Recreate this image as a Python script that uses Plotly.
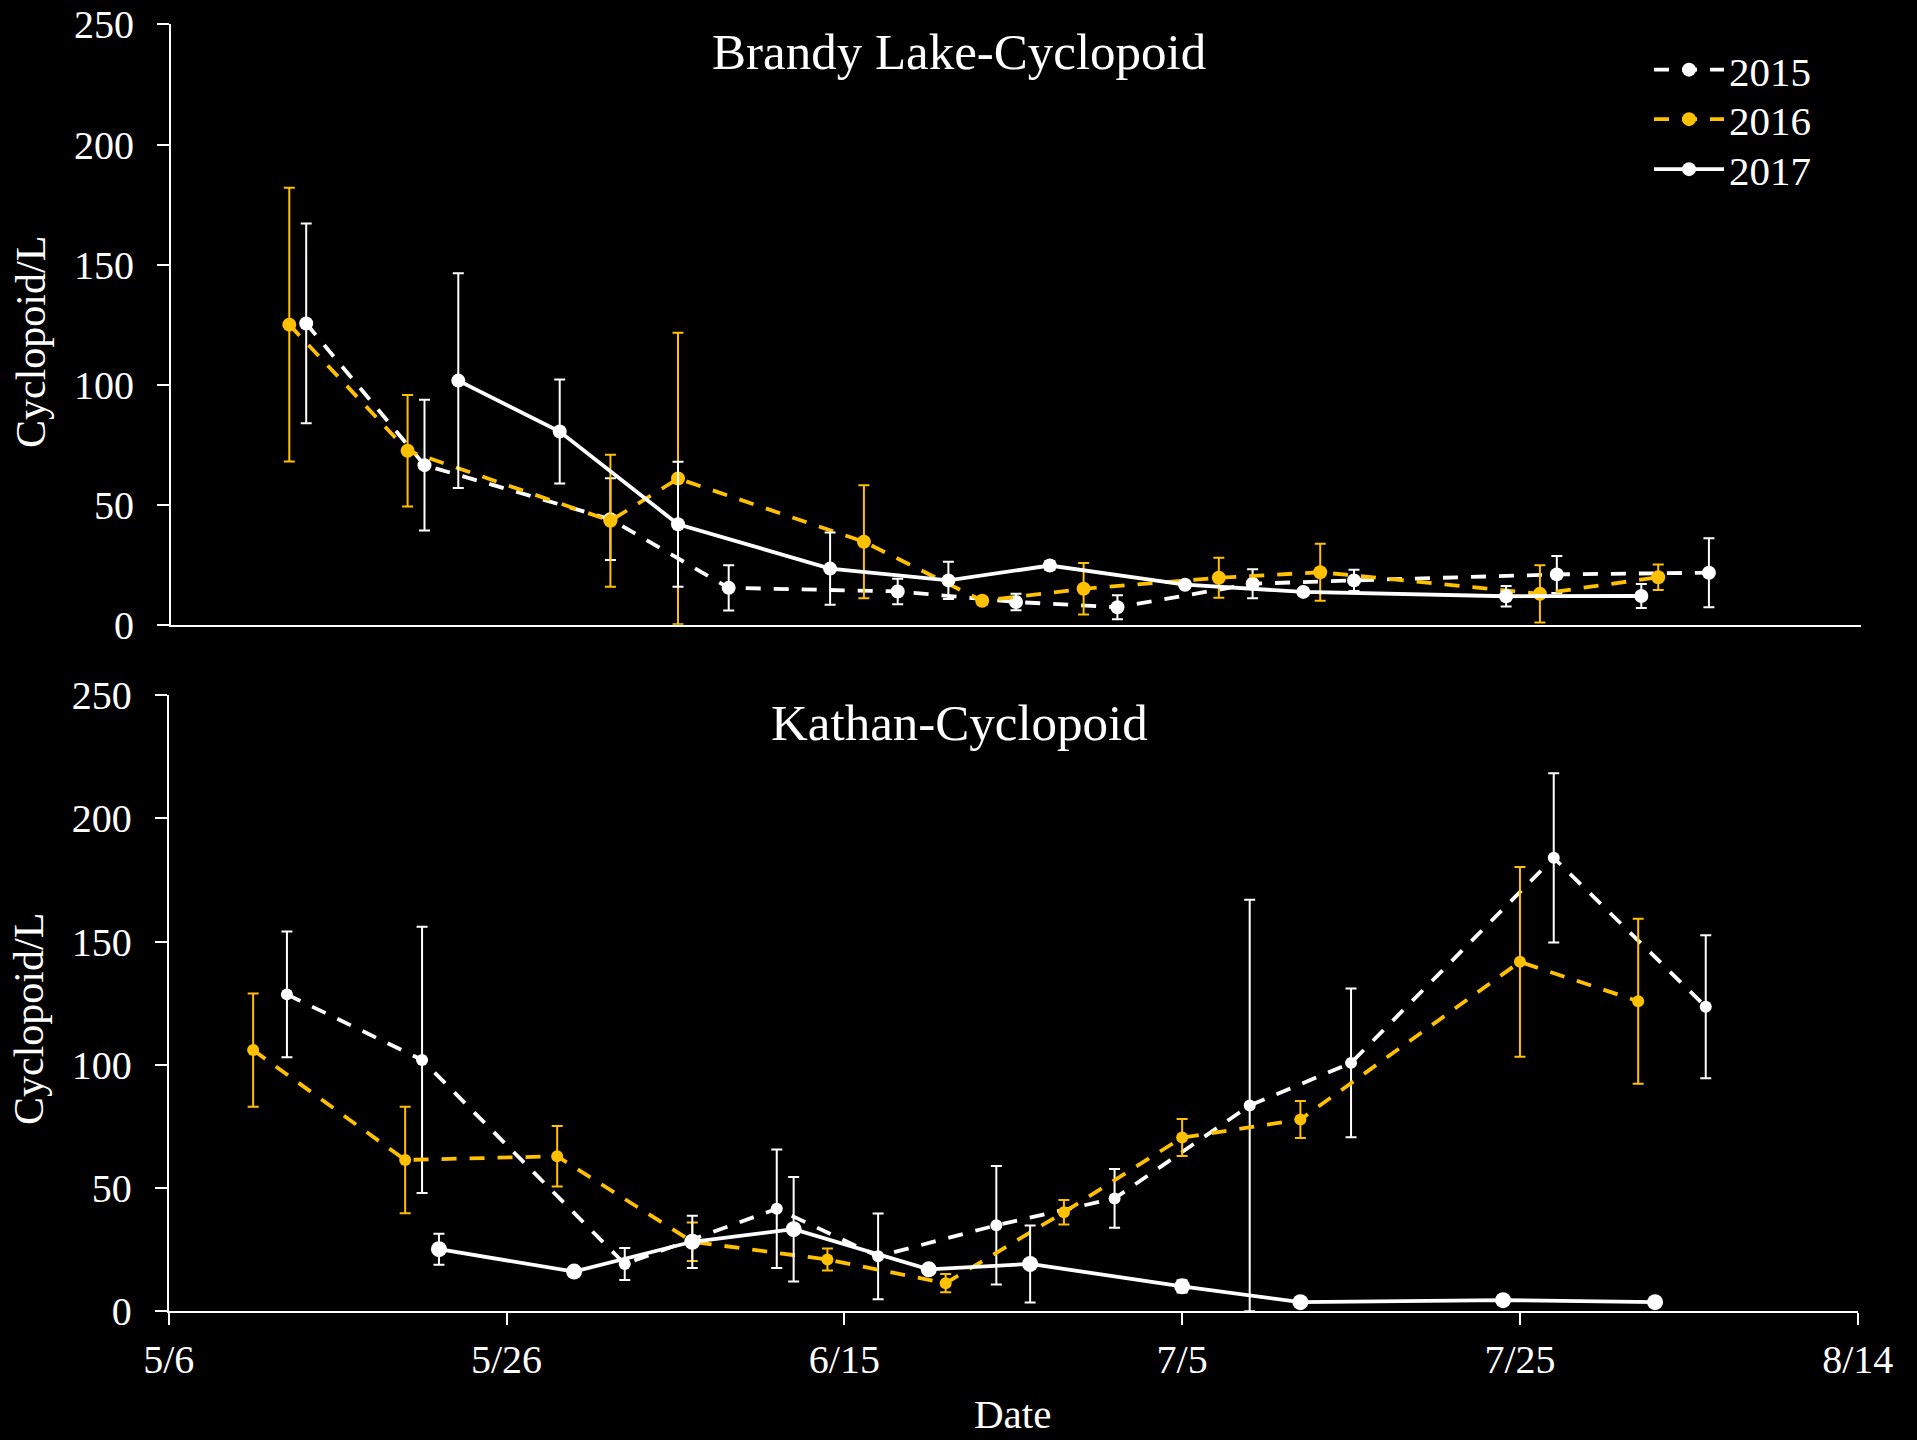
import plotly.graph_objects as go

# Common year used to overlay the three sampling seasons on one month/day axis
AXIS_YEAR = 2000

# ---- Brandy Lake ----
brandy_2015_dates = ["5/14", "5/21", "6/1", "6/8", "6/18", "6/25", "7/1", "7/9", "7/15", "7/27", "8/5"]
brandy_2015_vals = [125.5, 66.5, 44.0, 15.4, 13.9, 9.5, 7.3, 17.1, 18.5, 21.0, 21.7]
brandy_2015_err = [41.6, 27.2, 17.0, 9.4, 5.3, 3.4, 5.0, 6.0, 4.4, 7.7, 14.4]

brandy_2016_dates = ["5/13", "5/20", "6/1", "6/5", "6/16", "6/23", "6/29", "7/7", "7/13", "7/26", "8/2"]
brandy_2016_vals = [125.0, 72.5, 43.3, 60.9, 34.6, 10.0, 15.0, 19.6, 21.9, 12.9, 19.8]
brandy_2016_err = [57.0, 23.2, 27.5, 60.7, 23.5, 1.5, 10.7, 8.3, 11.9, 11.9, 5.3]

brandy_2017_dates = ["5/23", "5/29", "6/5", "6/14", "6/21", "6/27", "7/5", "7/12", "7/24", "8/1"]
brandy_2017_vals = [101.7, 80.5, 41.9, 23.4, 18.5, 24.7, 16.7, 13.7, 11.9, 12.0]
brandy_2017_err = [44.7, 21.7, 26.0, 15.0, 7.8, 1.8, 1.0, 1.0, 4.3, 5.0]

# ---- Kathan ----
kathan_2015_dates = ["5/13", "5/21", "6/2", "6/11", "6/17", "6/24", "7/1", "7/9", "7/15", "7/27", "8/5"]
kathan_2015_vals = [128.6, 102.0, 19.2, 41.6, 22.3, 34.9, 45.8, 83.5, 100.8, 184.0, 123.6]
kathan_2015_err = [25.5, 54.0, 6.5, 24.0, 17.4, 24.0, 11.9, 83.5, 30.2, 34.3, 29.0]

kathan_2016_dates = ["5/11", "5/20", "5/29", "6/6", "6/14", "6/21", "6/28", "7/5", "7/12", "7/25", "8/1"]
kathan_2016_vals = [106.0, 61.4, 62.9, 28.2, 21.0, 11.4, 40.2, 70.5, 77.8, 141.8, 125.8]
kathan_2016_err = [23.0, 21.6, 12.3, 7.8, 4.5, 3.7, 5.0, 7.5, 7.5, 38.5, 33.5]

kathan_2017_dates = ["5/22", "5/30", "6/6", "6/12", "6/20", "6/26", "7/5", "7/12", "7/24", "8/2"]
kathan_2017_vals = [25.2, 16.1, 28.2, 33.3, 17.0, 19.2, 10.1, 3.7, 4.5, 3.7]
kathan_2017_err = [6.3, 0.0, 10.6, 21.2, 0.0, 15.6, 2.5, 0.0, 0.0, 0.0]

years = ["2015", "2016", "2017"]
tick_labels = ["5/6", "5/26", "6/15", "7/5", "7/25", "8/14"]
y_ticks = [0, 50, 100, 150, 200, 250]

WHITE = "#FFFFFF"
GOLD = "#FFC000"
FONT = "Liberation Serif, Times New Roman, serif"


def to_date(md):
    m, d = md.split("/")
    return f"{AXIS_YEAR}-{int(m):02d}-{int(d):02d}"


styles = {
    "2015": dict(color=WHITE, dash="15px,13px", legend="legend"),
    "2016": dict(color=GOLD, dash="15px,13px", legend="legend2"),
    "2017": dict(color=WHITE, dash="solid", legend="legend3"),
}

panels = [
    ("x", "y", [(brandy_2015_dates, brandy_2015_vals, brandy_2015_err),
                (brandy_2016_dates, brandy_2016_vals, brandy_2016_err),
                (brandy_2017_dates, brandy_2017_vals, brandy_2017_err)],
     [14, 14, 14], True),
    ("x2", "y2", [(kathan_2015_dates, kathan_2015_vals, kathan_2015_err),
                  (kathan_2016_dates, kathan_2016_vals, kathan_2016_err),
                  (kathan_2017_dates, kathan_2017_vals, kathan_2017_err)],
     [12, 12, 16], False),
]

fig = go.Figure()
for xa, ya, series, msizes, show_leg in panels:
    for year, (dates, vals, errs), ms in zip(years, series, msizes):
        st = styles[year]
        fig.add_trace(go.Scatter(
            x=[to_date(d) for d in dates], y=vals,
            xaxis=xa, yaxis=ya,
            mode="lines+markers", name=year, showlegend=show_leg,
            legend=st["legend"],
            line=dict(color=st["color"], width=3.8, dash=st["dash"]),
            marker=dict(color=st["color"], size=ms, line=dict(width=0)),
            error_y=dict(type="data", array=errs, visible=True,
                         color=st["color"], thickness=2, width=5.5),
        ))

x_range = [to_date(tick_labels[0]), to_date(tick_labels[-1])]
tick_vals = [to_date(t) for t in tick_labels]

axis_common = dict(showgrid=False, zeroline=False, showline=True,
                   linecolor=WHITE, linewidth=2, automargin=False)
tick_font = dict(family=FONT, size=40, color=WHITE)


def legend_box(y_px):
    # one single-entry legend per season, stacked at fixed heights
    return dict(x=0.8602, y=1 - y_px / 1440, xanchor="left", yanchor="middle",
                bgcolor="rgba(0,0,0,0)", itemwidth=70,
                font=dict(family=FONT, size=41, color=WHITE))


fig.update_layout(
    width=1917, height=1440,
    paper_bgcolor="#000000", plot_bgcolor="#000000",
    margin=dict(l=0, r=0, t=0, b=0, pad=0, autoexpand=False),
    font=dict(family=FONT, color=WHITE),
    xaxis=dict(domain=[0.0892, 0.9708], anchor="y", type="date", range=x_range,
               tickvals=tick_vals, ticktext=tick_labels, showticklabels=False,
               ticks="", **axis_common),
    yaxis=dict(domain=[0.5661, 0.9830], anchor="x", range=[0, 250],
               tickvals=y_ticks, ticks="outside", ticklen=12, tickwidth=2,
               tickcolor=WHITE, tickfont=tick_font, ticklabelstandoff=15,
               **axis_common),
    xaxis2=dict(domain=[0.0880, 0.9691], anchor="y2", type="date", range=x_range,
                tickvals=tick_vals, ticktext=tick_labels, ticks="outside",
                ticklen=12, tickwidth=2, tickcolor=WHITE, tickfont=tick_font,
                ticklabelstandoff=0, **axis_common),
    yaxis2=dict(domain=[0.0894, 0.5172], anchor="x2", range=[0, 250],
                tickvals=y_ticks, ticks="outside", ticklen=12, tickwidth=2,
                tickcolor=WHITE, tickfont=tick_font, ticklabelstandoff=15,
                **axis_common),
    legend=legend_box(70.0),
    legend2=legend_box(119.5),
    legend3=legend_box(169.5),
    annotations=[
        dict(text="Brandy Lake-Cyclopoid", x=0.5, y=1 - 52 / 1440, xref="paper", yref="paper",
             xanchor="center", yanchor="middle", showarrow=False,
             font=dict(family=FONT, size=51, color=WHITE)),
        dict(text="Kathan-Cyclopoid", x=0.5006, y=1 - 723 / 1440, xref="paper", yref="paper",
             xanchor="center", yanchor="middle", showarrow=False,
             font=dict(family=FONT, size=51, color=WHITE)),
        dict(text="Cyclopoid/L", x=31 / 1917, y=1 - 342 / 1440, xref="paper", yref="paper",
             xanchor="center", yanchor="middle", textangle=-90, showarrow=False,
             font=dict(family=FONT, size=42, color=WHITE)),
        dict(text="Cyclopoid/L", x=29 / 1917, y=1 - 1019 / 1440, xref="paper", yref="paper",
             xanchor="center", yanchor="middle", textangle=-90, showarrow=False,
             font=dict(family=FONT, size=42, color=WHITE)),
        dict(text="Date", x=1012 / 1917, y=1 - 1414 / 1440, xref="paper", yref="paper",
             xanchor="center", yanchor="middle", showarrow=False,
             font=dict(family=FONT, size=41, color=WHITE)),
    ],
)

fig.write_html("out.html")
